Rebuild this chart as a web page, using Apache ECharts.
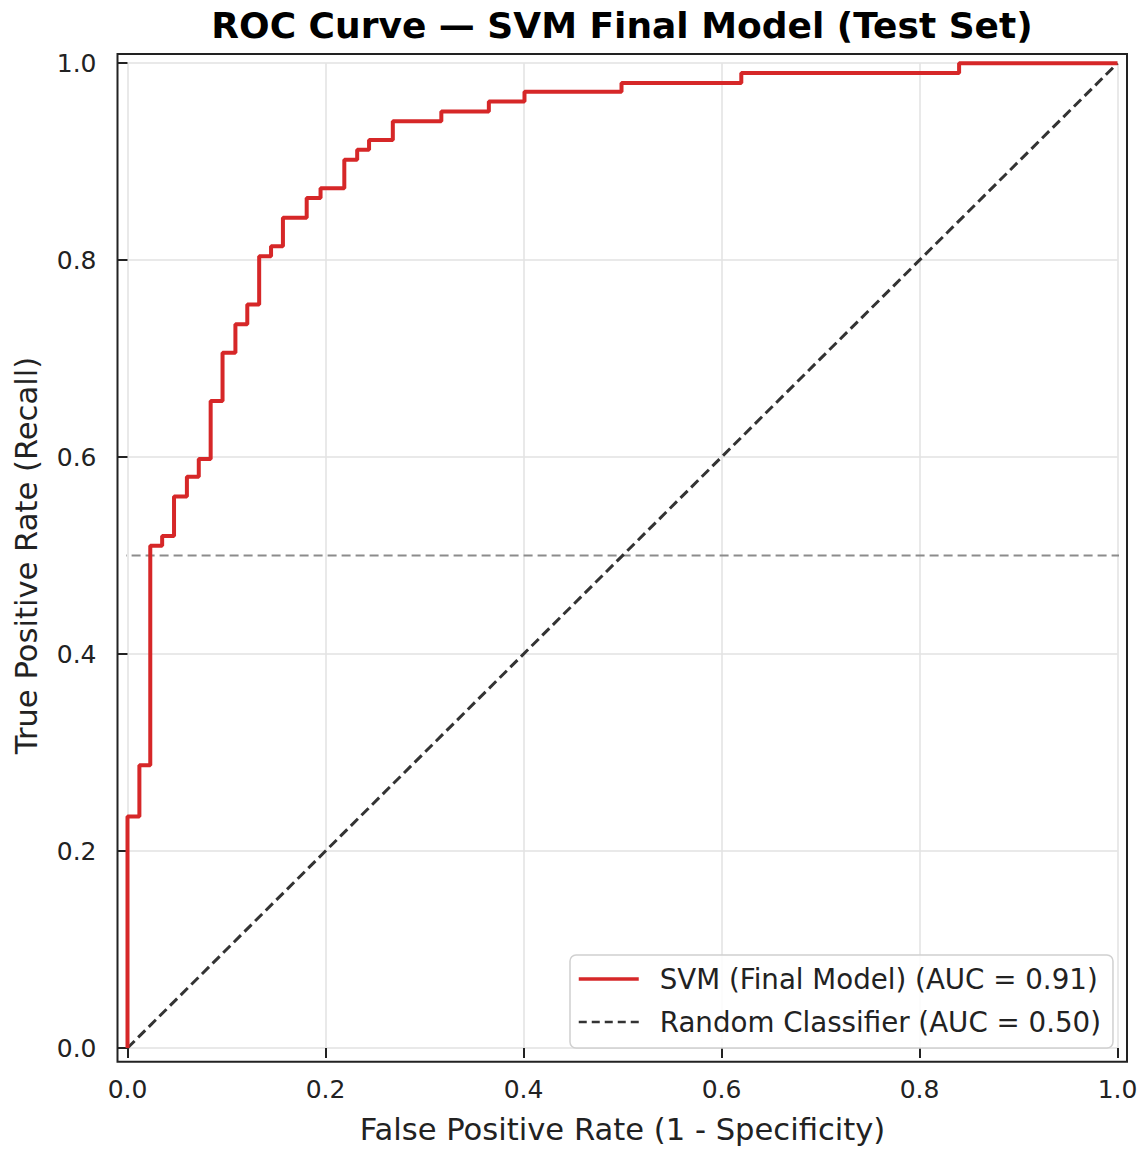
<!DOCTYPE html>
<html>
<head>
<meta charset="utf-8">
<script src="https://cdn.jsdelivr.net/npm/echarts@6/dist/echarts.min.js"></script>
<style>
  html, body { margin: 0; padding: 0; background: #fff; }
  #chart { width: 1141px; height: 1150px; }
</style>
</head>
<body>
<div id="chart"></div>
<script>
// ROC curve vertices (false positive rate, true positive rate)
const fpr = [0, 0, 0.012, 0.012, 0.023, 0.023, 0.035, 0.035, 0.047, 0.047,
  0.060, 0.060, 0.072, 0.072, 0.084, 0.084, 0.096, 0.096, 0.109, 0.109,
  0.121, 0.121, 0.133, 0.133, 0.145, 0.145, 0.157, 0.157, 0.181, 0.181,
  0.195, 0.195, 0.219, 0.219, 0.232, 0.232, 0.244, 0.244, 0.268, 0.268,
  0.317, 0.317, 0.365, 0.365, 0.401, 0.401, 0.499, 0.499, 0.620, 0.620,
  0.840, 0.840, 1.0]
const tpr = [0, 0.235, 0.235, 0.287, 0.287, 0.510, 0.510, 0.520, 0.520, 0.560,
  0.560, 0.580, 0.580, 0.598, 0.598, 0.657, 0.657, 0.706, 0.706, 0.735,
  0.735, 0.755, 0.755, 0.804, 0.804, 0.814, 0.814, 0.843, 0.843, 0.863,
  0.863, 0.873, 0.873, 0.902, 0.902, 0.912, 0.912, 0.922, 0.922, 0.941,
  0.941, 0.951, 0.951, 0.961, 0.961, 0.971, 0.971, 0.980, 0.980, 0.990,
  0.990, 1.0, 1.0]
const randomX = [0, 1]
const randomY = [0, 1]
const refLineX = [-0.01, 1.01]
const refLineY = [0.5, 0.5]
const ticks = [0, 0.2, 0.4, 0.6, 0.8, 1.0]

const svmName = 'SVM (Final Model) (AUC = 0.91)'
const randName = 'Random Classifier (AUC = 0.50)'
const font = 'DejaVu Sans'
const ink = '#222'

const zip = (xs, ys) => xs.map((x, i) => [x, ys[i]])

let myChart = echarts.init(document.getElementById('chart'), null, { renderer: 'svg' })

let option = {
  backgroundColor: '#fff',
  animation: false,
  textStyle: { fontFamily: font },
  grid: {
    left: 127.5,
    right: 23.5,
    top: 63.2,
    bottom: 98.3
  },
  xAxis: {
    type: 'value',
    min: ticks[0],
    max: ticks[ticks.length - 1],
    interval: 0.2,
    offset: 10,
    name: 'False Positive Rate (1 - Specificity)',
    nameLocation: 'middle',
    nameGap: 56,
    nameTextStyle: { fontSize: 30.6, color: ink, fontFamily: font },
    axisLine: { show: false },
    axisTick: { show: true, length: 10, lineStyle: { color: ink, width: 2 } },
    axisLabel: {
      fontSize: 25, color: ink, margin: 19, fontFamily: font,
      formatter: v => v.toFixed(1)
    },
    splitLine: { show: true, lineStyle: { color: '#e2e2e2', width: 1.5 } }
  },
  yAxis: {
    type: 'value',
    min: ticks[0],
    max: ticks[ticks.length - 1],
    interval: 0.2,
    offset: 10,
    name: 'True Positive Rate (Recall)',
    nameLocation: 'middle',
    nameGap: 76,
    nameTextStyle: { fontSize: 30.6, color: ink, fontFamily: font },
    axisLine: { show: false },
    axisTick: { show: true, length: 10, lineStyle: { color: ink, width: 2 } },
    axisLabel: {
      fontSize: 25, color: ink, margin: 21, fontFamily: font,
      formatter: v => v.toFixed(1)
    },
    splitLine: { show: true, lineStyle: { color: '#e2e2e2', width: 1.5 } }
  },
  legend: {
    data: [
      { name: svmName, lineStyle: { width: 3.5 } },
      { name: randName, lineStyle: { width: 2.5, type: [8, 5] } }
    ],
    orient: 'vertical',
    left: 570,
    top: 955,
    itemWidth: 60,
    itemHeight: 25,
    itemGap: 15,
    padding: [10, 12, 12, 7],
    backgroundColor: 'rgba(255,255,255,0.85)',
    borderColor: '#d0d0d0',
    borderWidth: 1.5,
    borderRadius: 6,
    itemStyle: { color: 'rgba(0,0,0,0)', borderWidth: 0, opacity: 0 },
    textStyle: { fontSize: 27.7, color: ink, fontFamily: font, padding: [0, 0, 0, 16] }
  },
  graphic: [
    {
      type: 'text',
      x: 622,
      y: 25,
      style: {
        text: 'ROC Curve — SVM Final Model (Test Set)',
        x: 0,
        y: 0,
        align: 'center',
        verticalAlign: 'middle',
        font: 'bold 36px "DejaVu Sans"',
        fill: '#000'
      }
    },
    {
      type: 'rect',
      z: 100,
      shape: { x: 117.5, y: 54, width: 1009.5, height: 1007.7 },
      style: { fill: 'none', stroke: ink, lineWidth: 2 },
      silent: true
    }
  ],
  series: [
    {
      name: 'threshold',
      type: 'line',
      data: zip(refLineX, refLineY),
      symbol: 'none',
      clip: false,
      lineStyle: { color: '#8c8c8c', width: 2, type: [9, 5] },
      z: 1
    },
    {
      name: randName,
      type: 'line',
      data: zip(randomX, randomY),
      symbol: 'none',
      lineStyle: { color: '#333', width: 3, type: [10, 5] },
      itemStyle: { color: '#333' },
      z: 2
    },
    {
      name: svmName,
      type: 'line',
      data: zip(fpr, tpr),
      symbol: 'none',
      clip: false,
      lineStyle: { color: '#d62728', width: 4 },
      itemStyle: { color: '#d62728' },
      z: 3
    }
  ]
}
myChart.setOption(option, true)
</script>
</body>
</html>
